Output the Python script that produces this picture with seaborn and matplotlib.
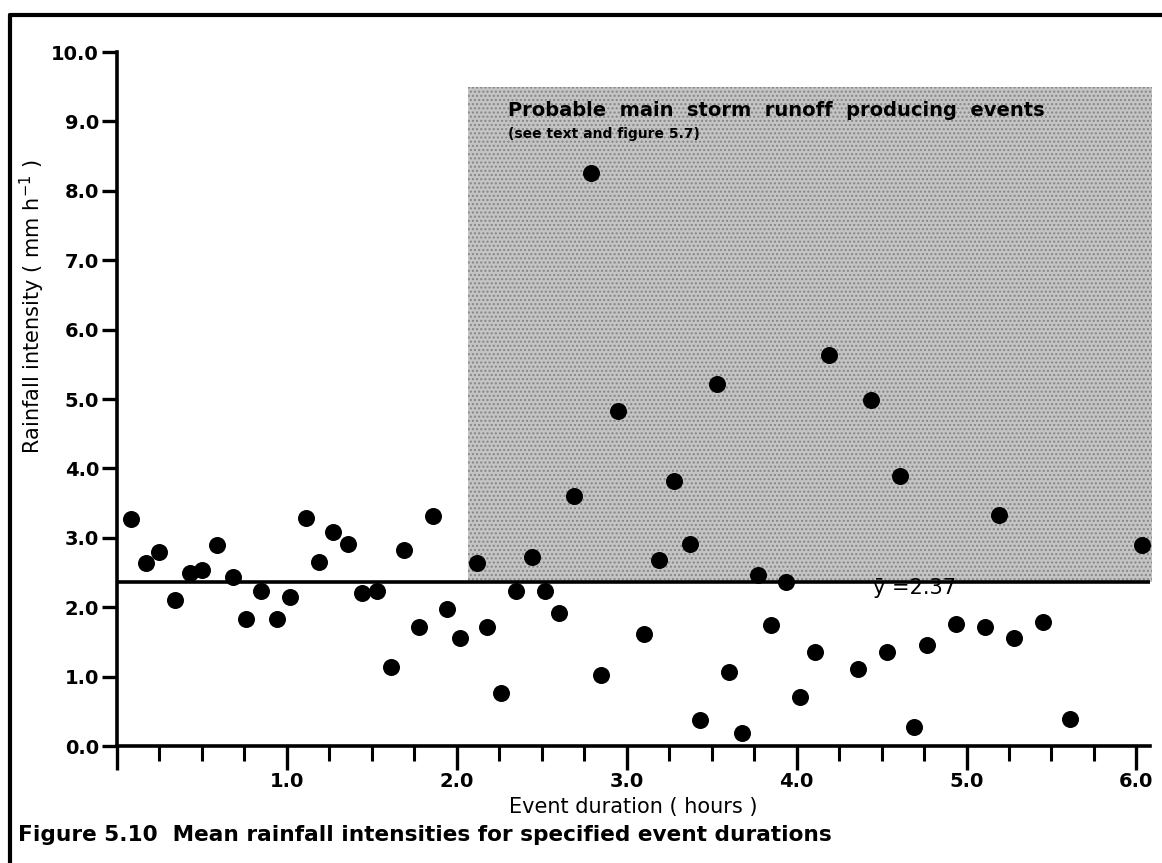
import matplotlib
matplotlib.use("Agg")
import matplotlib.pyplot as plt
import seaborn as sns
from matplotlib.patches import Rectangle
from matplotlib.lines import Line2D
import numpy as np

# Event duration (hours) and mean rainfall intensity (mm/h) for each event
duration = [
    0.08, 0.17, 0.25, 0.34, 0.43, 0.50, 0.59, 0.68, 0.76, 0.85,
    0.94, 1.02, 1.11, 1.19, 1.27, 1.36, 1.44, 1.53, 1.61, 1.69,
    1.78, 1.86, 1.94, 2.02, 2.12, 2.18, 2.26, 2.35, 2.44, 2.52,
    2.60, 2.69, 2.79, 2.85, 2.95, 3.10, 3.19, 3.28, 3.37, 3.43,
    3.53, 3.60, 3.68, 3.77, 3.85, 3.94, 4.02, 4.11, 4.19, 4.36,
    4.44, 4.53, 4.61, 4.69, 4.77, 4.94, 5.11, 5.19, 5.28, 5.45,
    5.61, 6.03,
]
intensity = [
    3.27, 2.64, 2.80, 2.11, 2.50, 2.53, 2.90, 2.43, 1.83, 2.23,
    1.83, 2.15, 3.29, 2.65, 3.08, 2.91, 2.21, 2.23, 1.14, 2.83,
    1.71, 3.32, 1.97, 1.56, 2.64, 1.71, 0.77, 2.24, 2.72, 2.23,
    1.91, 3.60, 8.26, 1.03, 4.82, 1.62, 2.68, 3.82, 2.91, 0.37,
    5.21, 1.07, 0.19, 2.47, 1.74, 2.37, 0.70, 1.35, 5.63, 1.11,
    4.99, 1.36, 3.89, 0.28, 1.45, 1.76, 1.72, 3.33, 1.56, 1.79,
    0.39, 2.90,
]
mean_intensity = 2.37

y_ticks = [0.0, 1.0, 2.0, 3.0, 4.0, 5.0, 6.0, 7.0, 8.0, 9.0, 10.0]
x_major = [0.0, 1.0, 2.0, 3.0, 4.0, 5.0, 6.0]
x_major_labels = ["", "1.0", "2.0", "3.0", "4.0", "5.0", "6.0"]

sns.set_style("ticks")
plt.rcParams["font.family"] = ["DejaVu Sans"]
plt.rcParams.update({
    "text.color": "black",
    "axes.labelcolor": "black",
    "axes.edgecolor": "black",
    "xtick.color": "black",
    "ytick.color": "black",
})

W, H = 1162, 863
fig = plt.figure(figsize=(W / 100, H / 100), dpi=100)
ax = fig.add_axes([117 / W, 1 - 746 / H, (1150 - 117) / W, (746 - 52) / H])

# shaded zone of the main storm-runoff events
ax.add_patch(Rectangle((2.065, mean_intensity), 6.09 - 2.065, 9.5 - mean_intensity,
                       facecolor="#c4c4c4", edgecolor="#858585", hatch="....",
                       linewidth=0, zorder=0, clip_on=False))

ax.axhline(mean_intensity, color="black", lw=2.6, zorder=2)

sns.scatterplot(x=duration, y=intensity, ax=ax, color="black", s=150,
                linewidth=0, zorder=3, clip_on=False)

ax.set_xlim(0, 6.08)
ax.set_ylim(0, 10)

for side in ("top", "right"):
    ax.spines[side].set_visible(False)
for side in ("left", "bottom"):
    ax.spines[side].set_linewidth(2.6)
    ax.spines[side].set_color("black")

ax.set_yticks(y_ticks)
ax.set_yticklabels([f"{v:.1f}" for v in y_ticks])
ax.set_xticks(x_major)
ax.set_xticklabels(x_major_labels)
ax.set_xticks(np.arange(0.25, 6.01, 0.25), minor=True)
ax.tick_params(axis="y", direction="out", length=11, width=2.4, pad=2,
               labelsize=14, colors="black")
ax.tick_params(axis="x", which="major", direction="out", length=17, width=2.4,
               pad=2, labelsize=14, colors="black")
ax.tick_params(axis="x", which="minor", direction="out", length=11, width=2.2,
               colors="black")
for lab in ax.get_xticklabels() + ax.get_yticklabels():
    lab.set_fontweight("bold")

ax.set_xlabel("Event duration ( hours )", fontsize=15, labelpad=4)
ax.set_ylabel("Rainfall intensity ( mm h$^{-1}$ )", fontsize=15)
ax.yaxis.set_label_coords(-0.068, 0.633)

ax.text(2.3, 9.15, "Probable  main  storm  runoff  producing  events",
        fontsize=14, fontweight="bold", va="center", ha="left")
ax.text(2.3, 8.82, "(see text and figure 5.7)", fontsize=10,
        fontweight="bold", va="center", ha="left")
ax.text(4.45, 2.28, "ȳ =2.37", fontsize=15, va="center", ha="left")

fig.text(18 / W, 1 - 835 / H,
         "Figure 5.10  Mean rainfall intensities for specified event durations",
         fontsize=15.6, fontweight="bold", va="center", ha="left")

# page frame
fig.add_artist(Line2D([10 / W, 10 / W], [0, 1 - 15 / H], color="black", lw=3,
                      transform=fig.transFigure))
fig.add_artist(Line2D([10 / W, 1], [1 - 15 / H, 1 - 15 / H], color="black",
                      lw=3, transform=fig.transFigure))

fig.savefig("out.png", dpi=100)
